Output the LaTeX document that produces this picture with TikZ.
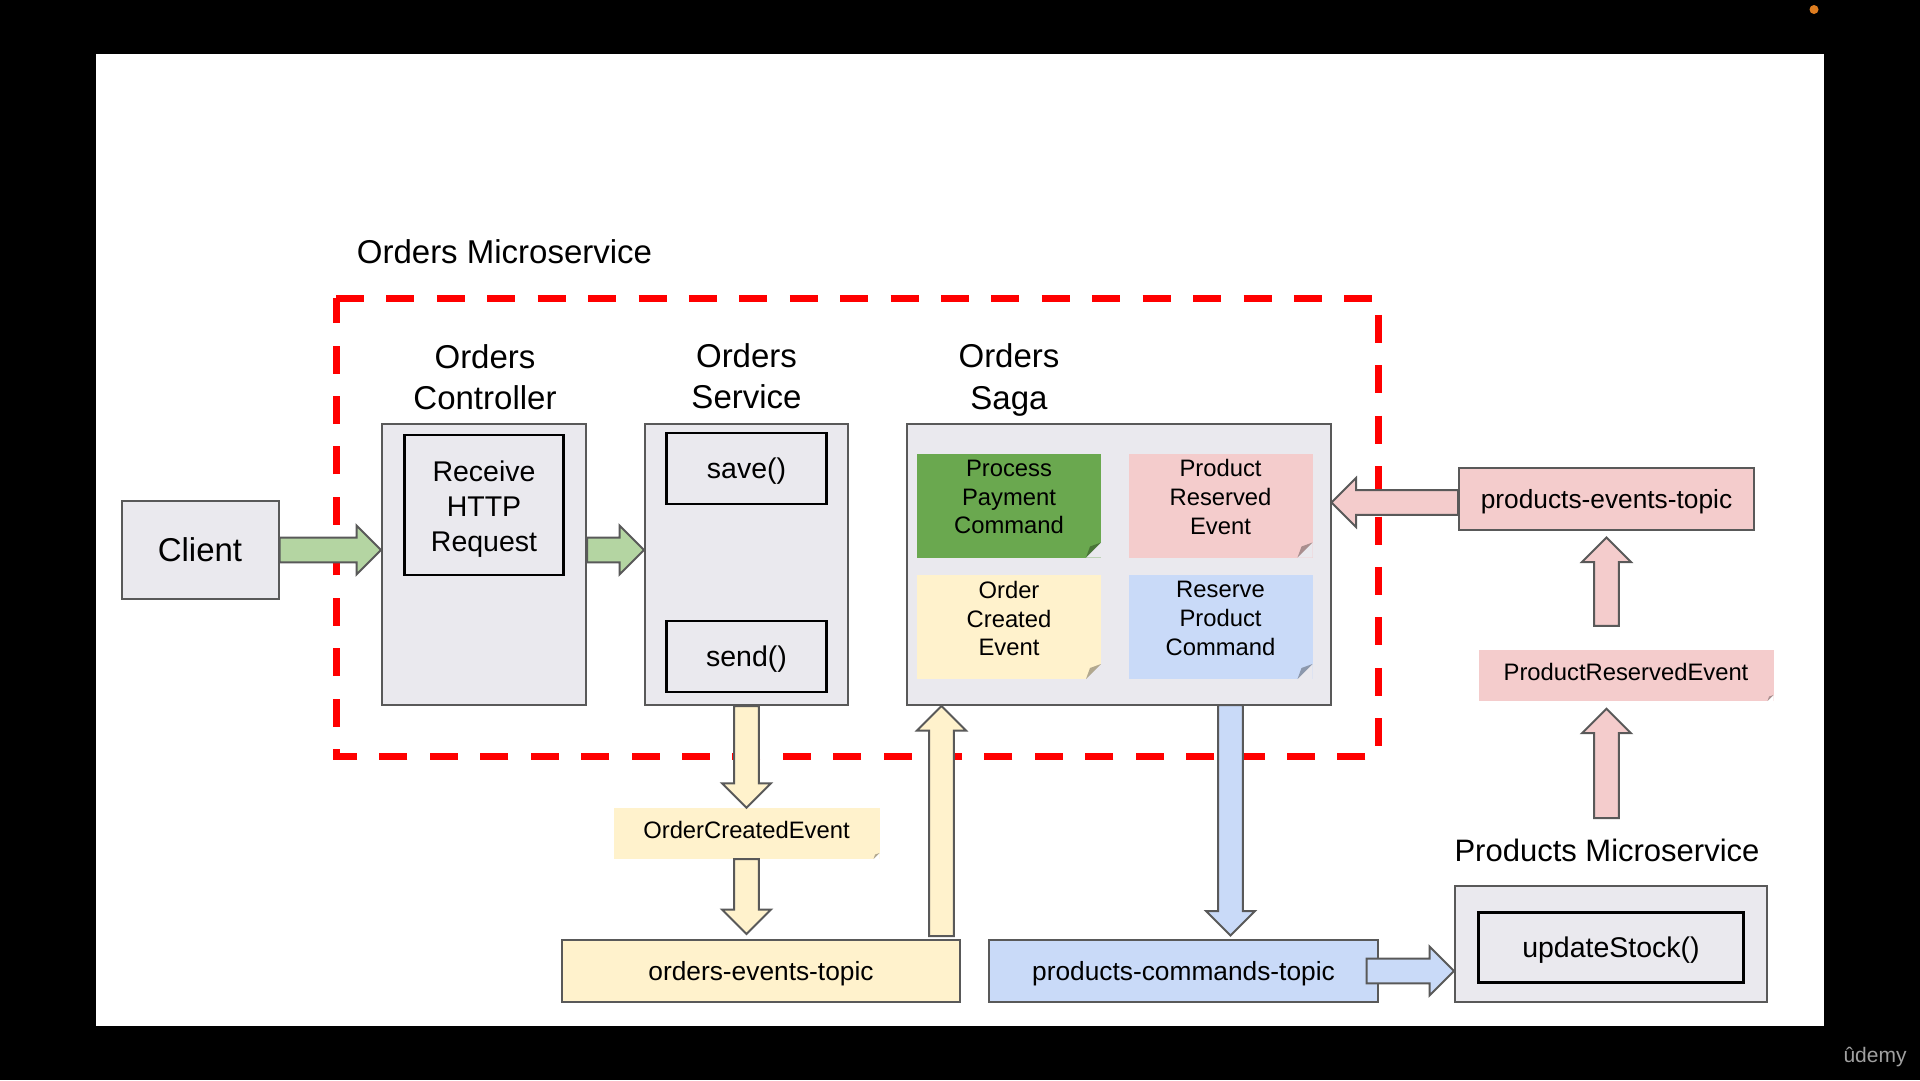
\documentclass[tikz,border=0pt]{standalone}
\usepackage{fontspec}
\setmainfont{Liberation Sans}
\usepackage{xcolor}
\usetikzlibrary{shapes, calc}
\definecolor{boxfill}{RGB}{234,233,238}
\definecolor{boxline}{RGB}{89,89,89}
\definecolor{greenfill}{RGB}{180,213,162}
\definecolor{greennote}{RGB}{106,168,79}
\definecolor{pinkfill}{RGB}{244,204,204}
\definecolor{yellowfill}{RGB}{255,242,204}
\definecolor{bluefill}{RGB}{201,218,248}
\definecolor{dotorange}{RGB}{222,125,32}
\definecolor{logogray}{RGB}{160,160,160}
\newcommand{\notedepth}{\rule[-17pt]{0pt}{17pt}}

\begin{document}
\begin{tikzpicture}[x=1pt, y=-1pt]
	\tikzstyle{box}=[
	draw=boxline,
	fill=boxfill,
	line width=2pt,
	rectangle,
	inner sep=0pt]
	\tikzstyle{func}=[
	draw=black,
	line width=2.5pt,
	rectangle,
	inner sep=0pt,
	align=center,
	font=\fontsize{28.5}{35}\selectfont]
	\tikzstyle{call}=[
	func,
	text depth=0pt]
	\tikzstyle{topic}=[
	draw=boxline,
	line width=2pt,
	rectangle,
	inner sep=0pt,
	minimum height=62pt,
	text depth=0pt,
	font=\fontsize{26.3}{32}\selectfont]
	\tikzstyle{title}=[
	align=center,
	font=\fontsize{33}{41.5}\selectfont]
	\tikzstyle{note}=[
	rectangle,
	minimum width=184pt,
	minimum height=104pt,
	inner sep=0pt,
	align=center,
	font=\fontsize{23.8}{28.7}\selectfont,
	path picture={\fill[boxfill] ([xshift=-15pt]path picture bounding box.south east) -- (path picture bounding box.south east) -- ([yshift=15pt]path picture bounding box.south east) -- cycle;
		\fill[black, opacity=.3] ([xshift=-15pt]path picture bounding box.south east) -- ([xshift=-11pt, yshift=11pt]path picture bounding box.south east) -- ([yshift=15pt]path picture bounding box.south east) -- cycle;}]
	\tikzstyle{tag}=[
	rectangle,
	minimum height=51pt,
	inner sep=0pt,
	text depth=7pt,
	font=\fontsize{23.8}{28.7}\selectfont,
	path picture={\fill[white] ([xshift=-6pt]path picture bounding box.south east) -- (path picture bounding box.south east) -- ([yshift=6pt]path picture bounding box.south east) -- cycle;
		\fill[black, opacity=.3] ([xshift=-6pt]path picture bounding box.south east) -- ([xshift=-4.5pt, yshift=4.5pt]path picture bounding box.south east) -- ([yshift=6pt]path picture bounding box.south east) -- cycle;}]
	\tikzstyle{fat}=[to path={let \p1=(\tikztostart), \p2=(\tikztotarget), \n1={veclen(\x2-\x1,\y2-\y1)-24.5}, \n2={atan2(\y2-\y1,\x2-\x1)} in ({\x1-12.3*sin(\n2)},{\y1+12.3*cos(\n2)}) -- ({\x1+\n1*cos(\n2)-12.3*sin(\n2)},{\y1+\n1*sin(\n2)+12.3*cos(\n2)}) -- ({\x1+\n1*cos(\n2)-24.5*sin(\n2)},{\y1+\n1*sin(\n2)+24.5*cos(\n2)}) -- (\p2) -- ({\x1+\n1*cos(\n2)+24.5*sin(\n2)},{\y1+\n1*sin(\n2)-24.5*cos(\n2)}) -- ({\x1+\n1*cos(\n2)+12.3*sin(\n2)},{\y1+\n1*sin(\n2)-12.3*cos(\n2)}) -- ({\x1+12.3*sin(\n2)},{\y1-12.3*cos(\n2)}) -- cycle}]
	\tikzstyle{greenarrow}=[fat, fill=greenfill, draw=boxline, line width=2pt]
	\tikzstyle{yellowarrow}=[fat, fill=yellowfill, draw=boxline, line width=2pt]
	\tikzstyle{bluearrow}=[fat, fill=bluefill, draw=boxline, line width=2pt]
	\tikzstyle{pinkarrow}=[fat, fill=pinkfill, draw=boxline, line width=2pt]
	\tikzstyle{frame}=[draw=red, line width=7pt, dash pattern=on 28pt off 22.42pt]
	%
	\useasboundingbox (0,0) rectangle (1920,1080);
	\fill[black] (0,0) rectangle (1920,1080);
	\fill[white] (96,54) rectangle (1824,1026);
	\fill[dotorange] (1814,9.5) circle (4.5);
	\node[text=logogray, anchor=base, font=\fontsize{21}{25}\selectfont] (logo) at (1875,1062) {ûdemy};
	%
	\draw[frame] (336,298) -- (1378,298) -- (1378,756) -- (336,756) -- cycle;
	\node[title, anchor=base] (toms) at (504.5,263) {Orders Microservice};
	%
	\node[box, minimum width=157pt, minimum height=98pt, font=\fontsize{33}{40}\selectfont] (client) at (200,550) {Client};
	\node[box, minimum width=204pt, minimum height=281pt] (ctrl) at (484,564.5) {};
	\node[box, right of=ctrl, node distance=262.5pt, minimum width=203pt, minimum height=281pt] (svc) {};
	\node[box, right of=svc, node distance=372pt, minimum width=424pt, minimum height=281pt] (saga) {};
	\node[func, minimum width=159pt, minimum height=140pt] (rcv) at (484,505) {Receive\rule{0pt}{28pt}\\HTTP\\Request};
	\node[call, minimum width=160pt, minimum height=71pt] (save) at (746.5,468.5) {save()};
	\node[call, below of=save, node distance=188pt, minimum width=160pt, minimum height=71pt] (send) {send()};
	\node[title] (tctrl) at (485,377) {Orders\\Controller};
	\node[title] (tsvc) at (746.5,376) {Orders\\Service};
	\node[title] (tsaga) at (1009,380) {Orders\\Saga};
	%
	\node[note, fill=greennote] (pay) at (1009,505.5) {Process\\Payment\\Command\notedepth};
	\node[note, fill=pinkfill, right of=pay, node distance=211.5pt] (resv) {Product\\Reserved\\Event\notedepth};
	\node[note, fill=yellowfill, below of=pay, node distance=121.5pt] (occ) {Order\\Created\\Event\notedepth};
	\node[note, fill=bluefill, right of=occ, node distance=211.5pt] (rpc) {Reserve\\Product\\Command\notedepth};
	%
	\node[tag, fill=yellowfill, minimum width=266pt] (oce) at (746.5,833.5) {OrderCreatedEvent};
	\node[topic, fill=yellowfill, minimum width=398pt] (oet) at (761,971) {orders-events-topic};
	\node[topic, fill=bluefill, minimum width=389pt] (pct) at (1183.5,971) {products-commands-topic};
	\node[topic, fill=pinkfill, minimum width=295pt] (pet) at (1606.5,499) {products-events-topic};
	\node[tag, fill=pinkfill, minimum width=295pt] (pre) at (1626,675.5) {ProductReservedEvent};
	%
	\node[title, anchor=base, font=\fontsize{31}{38}\selectfont] (tpms) at (1607,861.5) {Products Microservice};
	\node[box, minimum width=312pt, minimum height=116pt] (pms) at (1611,944) {};
	\node[call, minimum width=265pt, minimum height=70pt] (upd) at (1611,947.5) {updateStock()};
	%
	\coordinate (up) at (941.5,936);
	\coordinate (down) at (1230.5,705);
	\coordinate (back) at ($(pet.west)+(0,3.5)$);
	\path (client.east) edge[greenarrow] (client.east -| ctrl.west);
	\path (client.east -| ctrl.east) edge[greenarrow] (client.east -| svc.west);
	\path (svc.south) edge[yellowarrow] (oce.north);
	\path (oce.south) edge[yellowarrow] ($(oce.south |- oet.north)+(0,-5)$);
	\path (up) edge[yellowarrow] (up |- saga.south);
	\path (down) edge[bluearrow] ($(down |- pct.north)+(0,-3.5)$);
	\path ($(pct.east)+(-12.5,0)$) edge[bluearrow] (pms.west |- pct.east);
	\path (back) edge[pinkarrow] (back -| saga.east);
	\path ($(pet.south |- pre.north)+(0,-24)$) edge[pinkarrow] ($(pet.south)+(0,6.5)$);
	\path ($(pet.south |- pms.north)+(0,-67)$) edge[pinkarrow] ($(pet.south |- pre.south)+(0,7.5)$);
\end{tikzpicture}
\end{document}
